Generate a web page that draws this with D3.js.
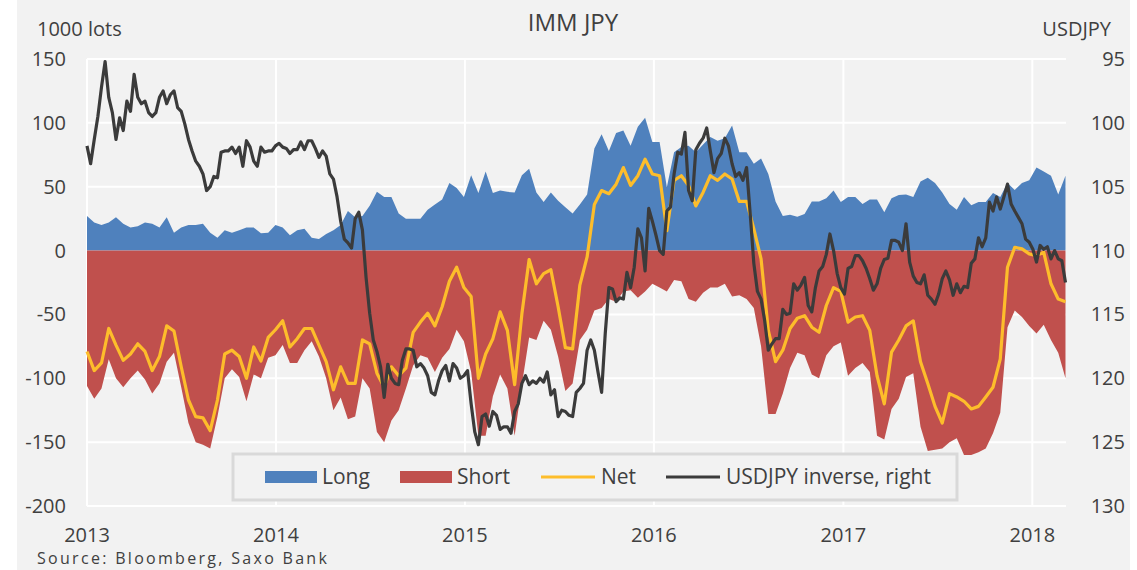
<!DOCTYPE html>
<html>
<head>
<meta charset="utf-8">
<script src="https://cdn.jsdelivr.net/npm/d3@7"></script>
<style>
body { margin: 0; background: #ffffff; }
svg text { font-family: "Open Sans", sans-serif; fill: #404040; }
</style>
</head>
<body>
<div id="chart"></div>
<script>
// IMM JPY positions, 1000 lots, every second week from 2013-01-01
const longPos = [27, 22, 20, 22, 26, 21, 18, 19, 22, 21, 18, 26, 14, 18, 20, 20, 21, 14, 10, 16, 14, 16, 18,
    18, 13.5, 14, 20, 18, 12, 16, 17, 10, 9, 13, 16, 20, 31, 26, 27, 35, 46, 42, 42, 29, 25,
    25, 25, 32, 36, 40, 53, 49, 42, 59, 45, 62, 45, 47, 46, 45.5, 59, 64, 45.5, 38, 45.5, 39, 34,
    29, 36, 44, 80, 91, 78, 92, 94, 82, 97, 104, 85, 85, 49.5, 77, 81, 82, 77, 83, 89, 86, 88,
    98, 77, 77, 68, 72, 60, 38.5, 27, 28, 26.5, 28.6, 38.5, 38.5, 41, 47, 38, 42, 42, 36.5, 40, 40, 30,
    41, 43.5, 44, 42, 54, 57, 53, 45.5, 36.5, 32, 42, 35.4, 38, 38, 45, 42, 53, 47.4, 53, 55, 65, 62, 58.6, 44, 58.6];
const shortPos = [-106, -116, -108, -85, -100, -107, -100, -94, -101, -112, -104, -87, -80, -107, -135, -150, -152, -155, -130, -100, -93, -99, -118,
    -97, -100, -84, -82, -74, -88, -88, -78, -71, -83, -100, -125, -115, -132, -130, -100, -108, -142, -150, -133, -125, -108,
    -90, -82, -84, -95, -84, -77, -62, -71, -95, -145, -145, -114, -97, -108, -145, -105, -68, -70, -55, -62, -83, -110,
    -104, -70, -62, -47, -45, -38, -40, -32, -31, -37, -32, -26, -29, -32, -23, -24, -38, -40, -33, -29, -29, -26,
    -36, -35, -38, -45, -75, -128, -128, -112, -92, -80, -82, -97, -100, -82, -75, -72, -98, -92, -88, -95, -145, -148,
    -124, -116, -99, -96, -138, -157, -156, -155, -150, -147, -160, -160, -158, -155, -143, -127, -60, -47, -52, -59, -65, -58, -70, -80, -100];
const netPos = [-79, -94, -88, -61, -74, -86, -81, -73, -79, -94, -83, -59, -63, -91, -117, -130, -131, -141, -117, -81, -78, -83, -100,
    -75.5, -86.5, -68, -62, -55, -75.5, -69, -61, -61, -74, -87, -109, -91, -104, -104, -70, -73, -96, -107, -91, -98, -92,
    -64, -56, -49, -59, -44, -24, -13, -29, -36, -100, -81, -69, -48, -62.5, -105, -49.5, -7, -26, -18, -15, -44, -76,
    -77, -27, -5, 36, 47, 44.5, 52, 65, 51, 58.6, 71.6, 60, 58.6, 15.6, 55, 58.6, 51, 35, 45.5, 58.6, 55, 60,
    56, 38.5, 38.5, 17, -6.5, -62.5, -87, -78, -61, -53, -51, -60, -64, -43, -29, -32, -56, -52, -51, -62.5, -98, -120,
    -79.5, -70, -59, -55, -87, -104, -122, -135, -112, -114.6, -118, -124, -122, -114.6, -107, -85, -13, 2.6, 1.3, -2.6, -4, -1.3, -26, -38, -40];

// USDJPY, weekly from 2013-01-01
const usdjpy = [101.8, 103.2, 101.3, 99.5, 97.2, 95.2, 98.0, 99.2, 101.3, 99.6, 100.6, 98.3, 99.1, 96.2, 98.0, 98.5, 98.3, 99.2, 99.5, 99.2,
    98.0, 97.5, 98.5, 97.8, 97.5, 98.8, 99.1, 100.1, 101.3, 102.2, 103.0, 103.4, 104.0, 105.3, 105.0, 104.2, 104.3, 102.3, 102.2, 102.2,
    101.9, 102.4, 101.9, 103.4, 101.4,
    101.9, 103.0, 103.4, 101.9, 102.3, 102.2, 102.2, 101.8, 101.6, 101.9, 102.0, 102.4, 102.1, 102.1, 101.5, 102.1, 101.4, 101.4, 102.0, 102.7,
    102.2, 102.6, 104.0, 104.4, 105.8, 107.7, 109.1, 109.4, 109.8, 107.5, 107.0, 108.4, 112.1, 114.9, 117.0, 117.9, 119.1, 121.5, 118.9, 120.0,
    120.4, 120.5, 118.6, 117.7, 117.7,
    117.8, 119.1, 118.85, 119.2, 119.8, 121.1, 121.3, 120.2, 119.4, 119.0, 120.2, 118.85, 119.2, 120.0, 119.8, 119.4, 122.0, 124.2, 125.2, 123.0,
    122.8, 123.75, 122.6, 122.9, 124.0, 123.8, 123.8, 124.3, 122.6, 122.0, 120.4, 119.8, 120.5, 120.2, 120.4, 120.0, 120.3, 119.5, 121.3, 120.9,
    123.0, 122.5, 122.6, 122.9,
    123.0, 121.1, 120.8, 120.4, 117.8, 117.0, 117.8, 119.5, 121.1, 116.5, 112.9, 113.0, 114.0, 113.7, 113.8, 111.7, 112.9, 111.3, 108.3, 109.0,
    111.6, 106.7, 107.7, 108.8, 110.0, 110.3, 106.9, 106.6, 104.0, 102.3, 102.45, 100.75, 105.3, 106.1, 102.1, 101.6, 101.2, 100.4, 102.2, 103.9,
    102.8, 102.4, 101.2, 101.8,
    103.2, 104.2, 103.9, 104.5, 103.5, 107.1, 111.0, 113.2, 113.8, 115.5, 117.8, 117.3, 116.9, 116.9, 114.6, 115.0, 114.9, 112.6, 113.1, 112.7,
    112.1, 114.3, 114.8, 112.9, 111.6, 111.25, 110.3, 108.7, 110.0, 111.8, 112.9, 113.4, 111.4, 111.25, 110.4, 110.4, 110.8, 111.4, 112.2, 113.1,
    112.6, 111.4, 110.7, 110.6,
    109.2, 109.2, 109.35, 110.0, 107.9, 110.9, 112.0, 112.5, 112.6, 111.9, 113.5, 113.8, 114.2, 113.4, 112.2, 111.6, 112.3, 113.5, 112.6, 113.3,
    112.8, 112.9, 111.0, 110.65, 109.0, 109.7, 109.0, 106.2, 106.9, 105.8, 106.75, 105.8, 104.8, 106.35, 106.9, 107.4, 107.9, 109.1, 109.35, 109.9,
    110.9, 109.6, 109.9, 109.7, 110.65, 110.0, 110.65, 110.8, 112.5];

const leftTicks = [-200, -150, -100, -50, 0, 50, 100, 150];
const rightTicks = [95, 100, 105, 110, 115, 120, 125, 130];
const yearTicks = ["2013", "2014", "2015", "2016", "2017", "2018"];

const startDate = new Date(2013, 0, 1);
const endDate = new Date(2018, 2, 7);

function drawChart() {
    let width = 1137, height = 570;
    let plot = {left: 87, right: 1066, top: 59, bottom: 506};

    let svg = d3.select("#chart")
        .append("svg")
        .attr("width", width)
        .attr("height", height);

    svg.append("rect")
        .attr("x", 17).attr("y", 0)
        .attr("width", 1113).attr("height", height)
        .attr("fill", "#f2f2f2");

    let x = d3.scaleTime().domain([startDate, endDate]).range([plot.left, plot.right]);
    let y = d3.scaleLinear().domain([-200, 150]).range([plot.bottom, plot.top]);
    let y2 = d3.scaleLinear().domain([130, 95]).range([plot.bottom, plot.top]);

    let cot = longPos.map(function(d, i) {
        return {date: d3.timeDay.offset(startDate, i * 14), long: d, short: shortPos[i], net: netPos[i]};
    });
    let fx = usdjpy.map(function(d, i) {
        return {date: d3.timeDay.offset(startDate, i * 7), value: d};
    });
    let years = yearTicks.map(function(d) { return d3.timeParse("%Y")(d); });

    // grid
    svg.append("g").selectAll("line")
        .data(leftTicks)
        .enter().append("line")
        .attr("x1", plot.left).attr("x2", plot.right)
        .attr("y1", function(d) { return y(d); })
        .attr("y2", function(d) { return y(d); })
        .attr("stroke", "#ffffff").attr("stroke-width", 2);

    svg.append("g").selectAll("line")
        .data(years)
        .enter().append("line")
        .attr("x1", function(d) { return x(d); })
        .attr("x2", function(d) { return x(d); })
        .attr("y1", plot.top).attr("y2", plot.bottom)
        .attr("stroke", "#ffffff").attr("stroke-width", 2);

    let areaLong = d3.area()
        .x(function(d) { return x(d.date); })
        .y0(y(0))
        .y1(function(d) { return y(d.long); });
    let areaShort = d3.area()
        .x(function(d) { return x(d.date); })
        .y0(y(0))
        .y1(function(d) { return y(d.short); });

    svg.append("path").datum(cot).attr("d", areaLong).attr("fill", "#4f81bd");
    svg.append("path").datum(cot).attr("d", areaShort).attr("fill", "#c0504d");

    let netLine = d3.line()
        .x(function(d) { return x(d.date); })
        .y(function(d) { return y(d.net); });
    svg.append("path").datum(cot)
        .attr("d", netLine)
        .attr("fill", "none")
        .attr("stroke", "#fdbd2b")
        .attr("stroke-width", 3.2)
        .attr("stroke-linejoin", "round");

    let fxLine = d3.line()
        .x(function(d) { return x(d.date); })
        .y(function(d) { return y2(d.value); });
    svg.append("path").datum(fx)
        .attr("d", fxLine)
        .attr("fill", "none")
        .attr("stroke", "#3b3b3b")
        .attr("stroke-width", 3.2)
        .attr("stroke-linejoin", "round");

    // axis labels
    svg.append("g").selectAll("text")
        .data(leftTicks)
        .enter().append("text")
        .attr("x", 66)
        .attr("y", function(d) { return y(d); })
        .attr("dy", "0.35em")
        .attr("text-anchor", "end")
        .attr("font-size", 20)
        .text(function(d) { return d; });

    svg.append("g").selectAll("text")
        .data(rightTicks)
        .enter().append("text")
        .attr("x", 1125)
        .attr("y", function(d) { return y2(d); })
        .attr("dy", "0.35em")
        .attr("text-anchor", "end")
        .attr("font-size", 20)
        .text(function(d) { return d; });

    svg.append("g").selectAll("text")
        .data(years)
        .enter().append("text")
        .attr("x", function(d) { return x(d); })
        .attr("y", 542)
        .attr("text-anchor", "middle")
        .attr("font-size", 20)
        .text(function(d) { return d3.timeFormat("%Y")(d); });

    svg.append("text").attr("x", 573).attr("y", 31)
        .attr("text-anchor", "middle").attr("font-size", 24).text("IMM JPY");
    svg.append("text").attr("x", 37).attr("y", 36)
        .attr("font-size", 20).text("1000 lots");
    svg.append("text").attr("x", 1111).attr("y", 36)
        .attr("text-anchor", "end").attr("font-size", 20).text("USDJPY");
    svg.append("text").attr("x", 37).attr("y", 564)
        .attr("font-size", 16).attr("letter-spacing", 2.3)
        .text("Source: Bloomberg, Saxo Bank");

    // legend
    let legend = svg.append("g");
    legend.append("rect")
        .attr("x", 233).attr("y", 454)
        .attr("width", 724).attr("height", 46)
        .attr("fill", "#f2f2f2")
        .attr("stroke", "#d9d9d9").attr("stroke-width", 3);

    let items = [
        {name: "Long", type: "rect", color: "#4f81bd", x: 265},
        {name: "Short", type: "rect", color: "#c0504d", x: 400},
        {name: "Net", type: "line", color: "#fdbd2b", x: 541},
        {name: "USDJPY inverse, right", type: "line", color: "#3b3b3b", x: 666}
    ];
    items.forEach(function(it) {
        if (it.type == "rect") {
            legend.append("rect").attr("x", it.x).attr("y", 471)
                .attr("width", 52).attr("height", 12).attr("fill", it.color);
        } else {
            legend.append("line").attr("x1", it.x).attr("x2", it.x + 54)
                .attr("y1", 477).attr("y2", 477)
                .attr("stroke", it.color).attr("stroke-width", 3.2);
        }
        legend.append("text")
            .attr("x", it.x + (it.type == "rect" ? 57 : 60))
            .attr("y", 477)
            .attr("dy", "0.35em")
            .attr("font-size", 21)
            .text(it.name);
    });
}

drawChart();
</script>
</body>
</html>
